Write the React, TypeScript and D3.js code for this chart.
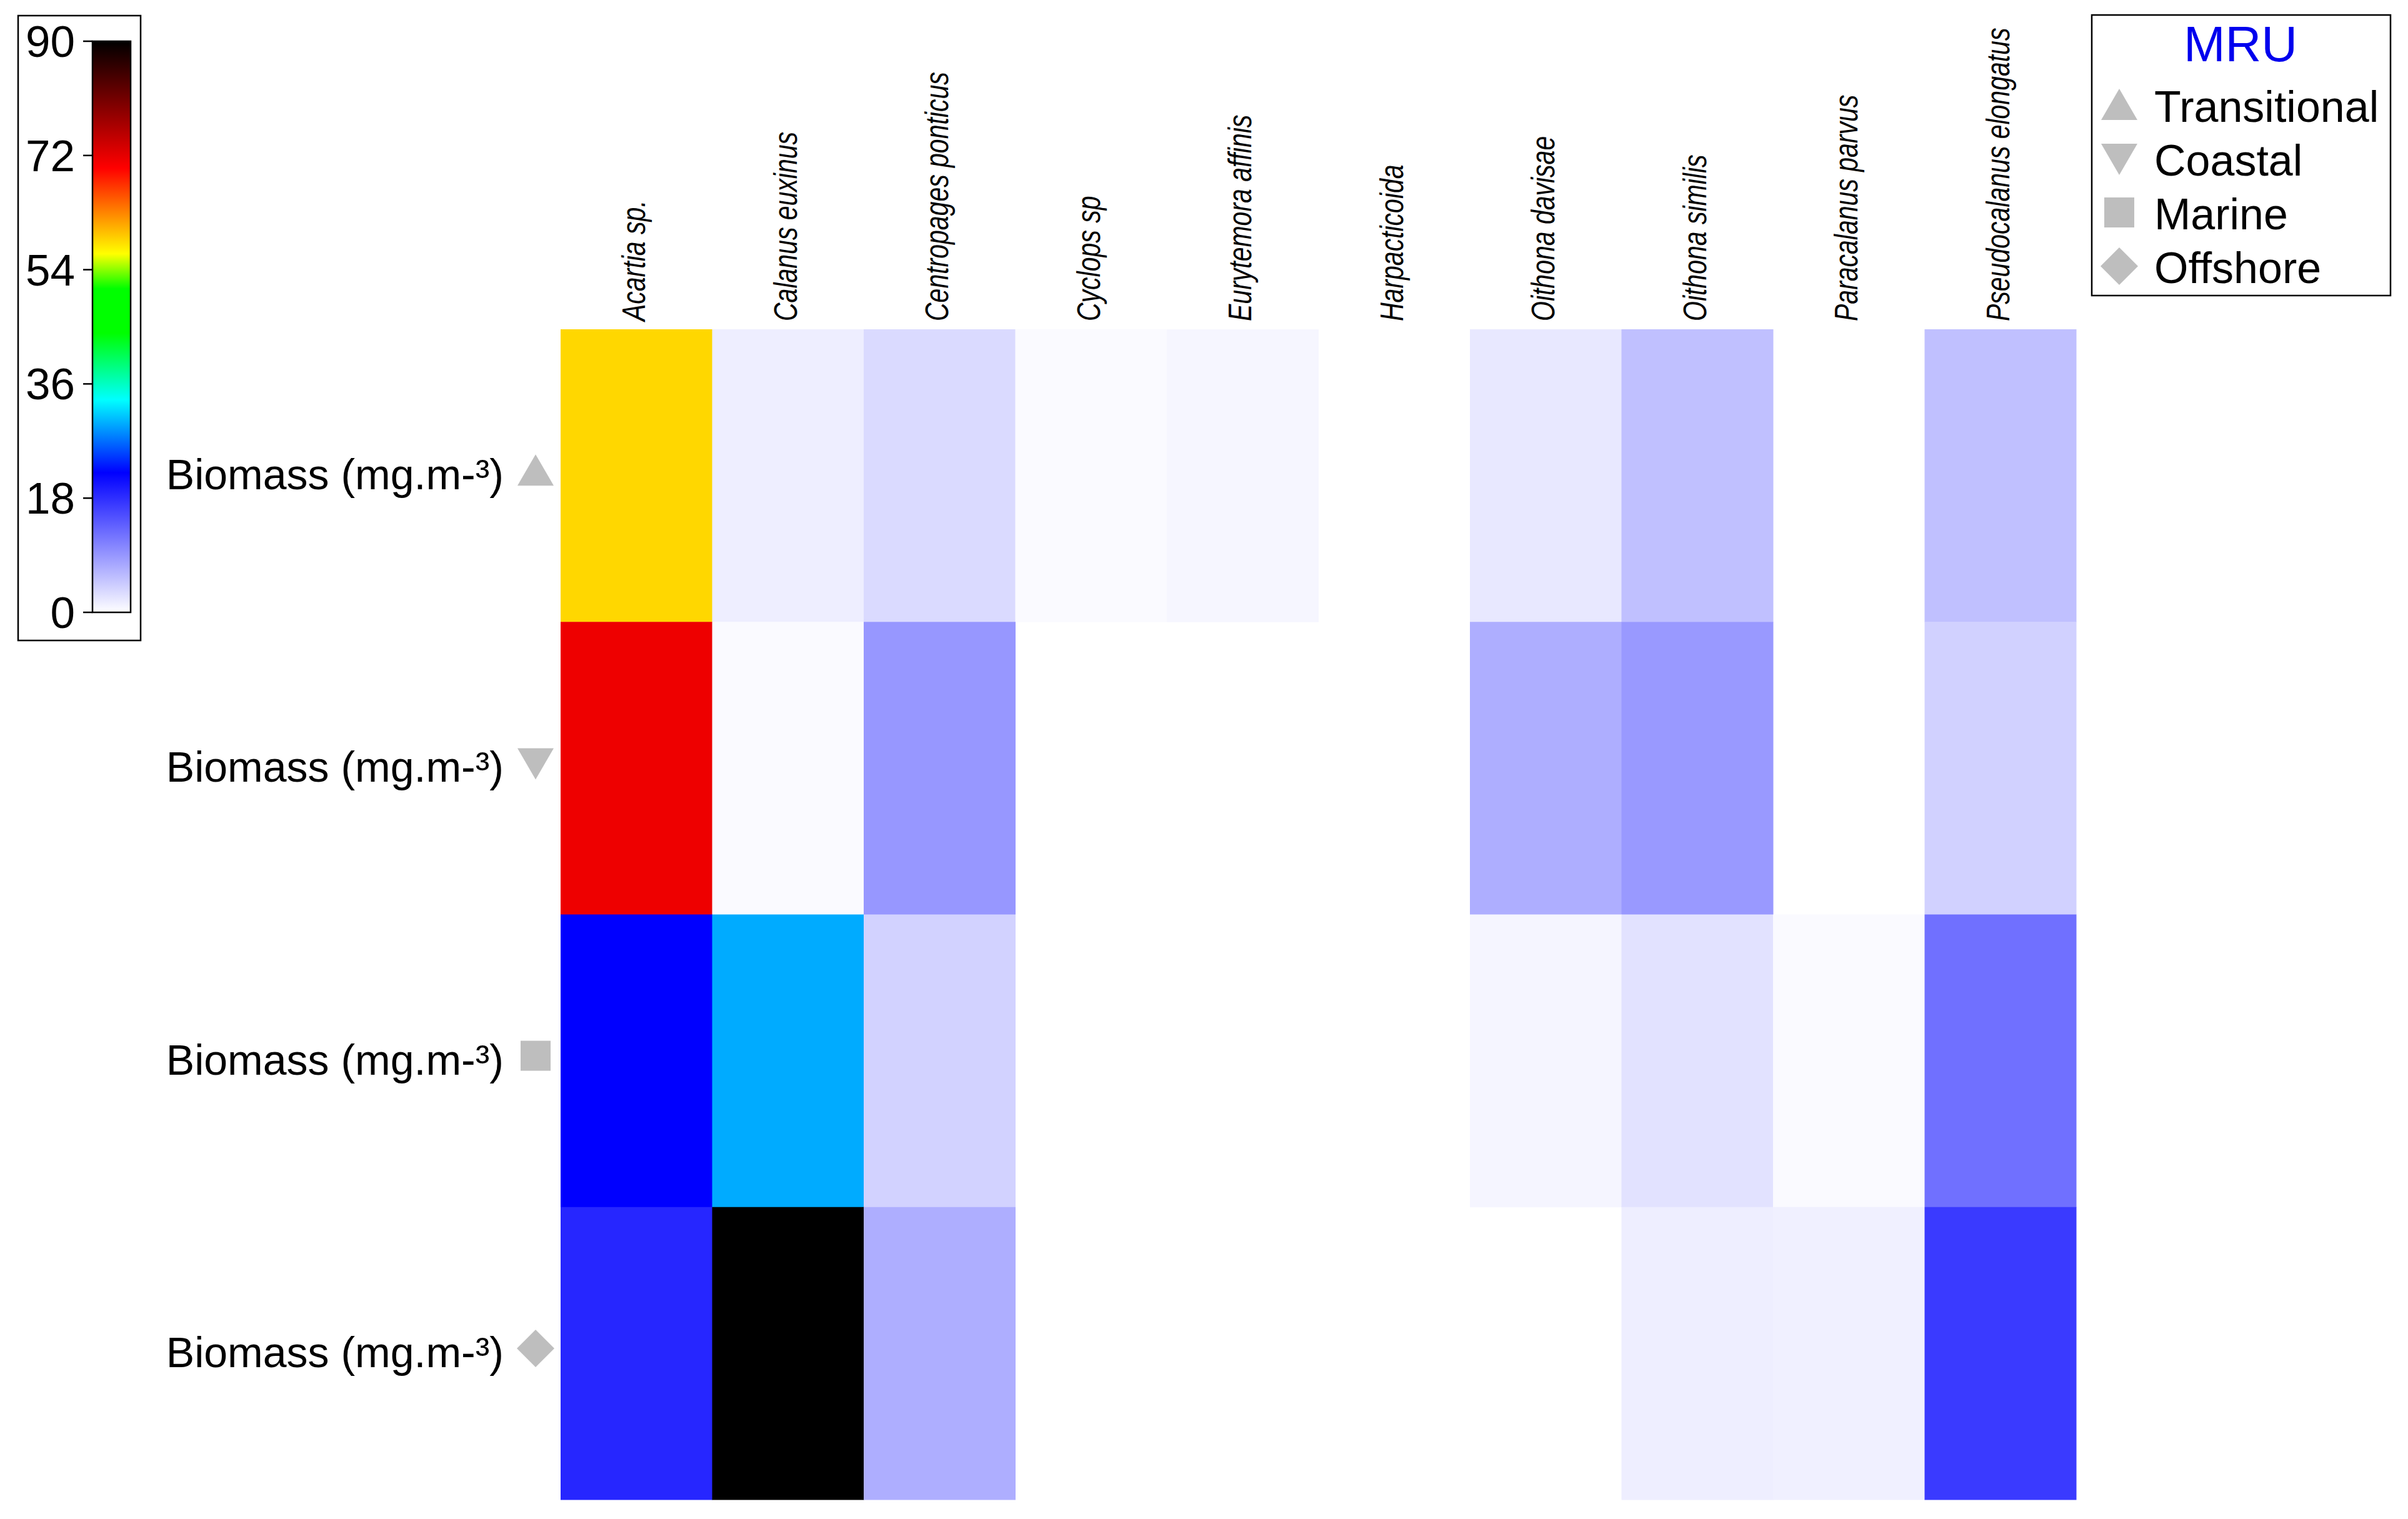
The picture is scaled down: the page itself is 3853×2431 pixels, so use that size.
import React from 'react';
import * as d3 from 'd3';

// species (columns)
const species = [
  'Acartia sp.',
  'Calanus euxinus',
  'Centropages ponticus',
  'Cyclops sp',
  'Eurytemora affinis',
  'Harpacticoida',
  'Oithona davisae',
  'Oithona similis',
  'Paracalanus parvus',
  'Pseudocalanus elongatus',
];

// MRU rows
const mruNames = ['Transitional', 'Coastal', 'Marine', 'Offshore'];

// biomass (mg.m-3), one array per MRU, same order as species
const transitional = [58.6, 1.5, 3.2, 0.4, 0.8, 0, 2.0, 5.4, 0, 5.4];
const coastal = [71.3, 0.4, 9.0, 0, 0, 0, 7.0, 8.8, 0, 4.0];
const marine = [22.0, 29.7, 3.9, 0, 0, 0, 0.9, 2.5, 0.4, 12.3];
const offshore = [18.7, 90.0, 7.0, 0, 0, 0, 0, 1.5, 1.3, 17.0];

const biomass = [transitional, coastal, marine, offshore];

// colour ramp of the key
const rampValues = [0, 22, 33.5, 44, 51, 56.5, 70, 90];
const rampColors = ['#ffffff', '#0000ff', '#00ffff', '#00ff00', '#00ff00', '#ffff00', '#ff0000', '#000000'];
const legendTicks = [0, 18, 36, 54, 72, 90];

const FONT = '"Liberation Sans", Arial, sans-serif';
const GREY = '#bebebe';

const Symbol = ({ kind, cx, cy }: { kind: string; cx: number; cy: number }) => {
  if (kind === 'Transitional')
    return <path d={`M${cx - 29},${cy + 24}L${cx + 29},${cy + 24}L${cx},${cy - 26}Z`} fill={GREY} />;
  if (kind === 'Coastal')
    return <path d={`M${cx - 29},${cy - 24}L${cx + 29},${cy - 24}L${cx},${cy + 26}Z`} fill={GREY} />;
  if (kind === 'Marine') return <rect x={cx - 24} y={cy - 24} width={48} height={48} fill={GREY} />;
  return <path d={`M${cx},${cy - 30}L${cx + 30},${cy}L${cx},${cy + 30}L${cx - 30},${cy}Z`} fill={GREY} />;
};

export default function App() {
  const width = 3853;
  const height = 2431;

  const x = d3.scaleBand().domain(species).range([897, 3322]);
  const y = d3.scaleBand().domain(mruNames).range([527, 2400]);
  const color = d3.scaleLinear<string>().domain(rampValues).range(rampColors).interpolate(d3.interpolateRgb);
  const yKey = d3.scaleLinear().domain([0, 90]).range([980, 66]);

  return (
    <div style={{ position: 'absolute', left: 0, top: 0 }}>
      <svg width={width} height={height} style={{ display: 'block', background: '#fff' }} fontFamily={FONT}>
        <defs>
          <linearGradient id="ramp" x1="0" y1="1" x2="0" y2="0">
            {rampValues.map((v, i) => (
              <stop key={i} offset={v / 90} stopColor={rampColors[i]} />
            ))}
          </linearGradient>
        </defs>

        {/* heatmap cells */}
        {biomass.map((row, r) =>
          row.map((v, c) =>
            v > 0 ? (
              <rect
                key={`${r}-${c}`}
                x={x(species[c])}
                y={y(mruNames[r])}
                width={x.bandwidth() + 0.5}
                height={y.bandwidth() + 0.5}
                fill={color(v)}
              />
            ) : null
          )
        )}

        {/* column labels */}
        {species.map((s) => (
          <text
            key={s}
            transform={`translate(${(x(s) as number) + x.bandwidth() / 2 + 14},514) rotate(-90) scale(1,1.25)`}
            fontSize={41}
            fontStyle="italic"
            fill="#000"
          >
            {s}
          </text>
        ))}

        {/* row labels */}
        {mruNames.map((m) => {
          const cy = (y(m) as number) + y.bandwidth() / 2;
          return (
            <g key={m}>
              <text x={806} y={cy + 22} fontSize={68} textAnchor="end" fill="#000">
                Biomass (mg.m-³)
              </text>
              <Symbol kind={m} cx={857} cy={cy - 8} />
            </g>
          );
        })}

        {/* colour key */}
        <rect x={29} y={25} width={196} height={1000} fill="none" stroke="#000" strokeWidth={2.5} />
        <rect x={148} y={yKey(90)} width={61} height={yKey(0) - yKey(90)} fill="url(#ramp)" stroke="#000" strokeWidth={2.5} />
        {legendTicks.map((t) => (
          <g key={t}>
            <line x1={133} x2={148} y1={yKey(t)} y2={yKey(t)} stroke="#000" strokeWidth={2.5} />
            <text x={120} y={yKey(t) + 25} fontSize={71} textAnchor="end" fill="#000">
              {t}
            </text>
          </g>
        ))}

        {/* MRU legend */}
        <rect x={3347} y={24} width={478} height={449} fill="#fff" stroke="#000" strokeWidth={2.5} />
        <text x={3585} y={98} fontSize={80} textAnchor="middle" fill="#0000ee">
          MRU
        </text>
        {mruNames.map((m, i) => {
          const base = 195 + i * 86;
          return (
            <g key={m}>
              <Symbol kind={m} cx={3391} cy={base - 27} />
              <text x={3447} y={base} fontSize={70} fill="#000">
                {m}
              </text>
            </g>
          );
        })}
      </svg>
    </div>
  );
}
